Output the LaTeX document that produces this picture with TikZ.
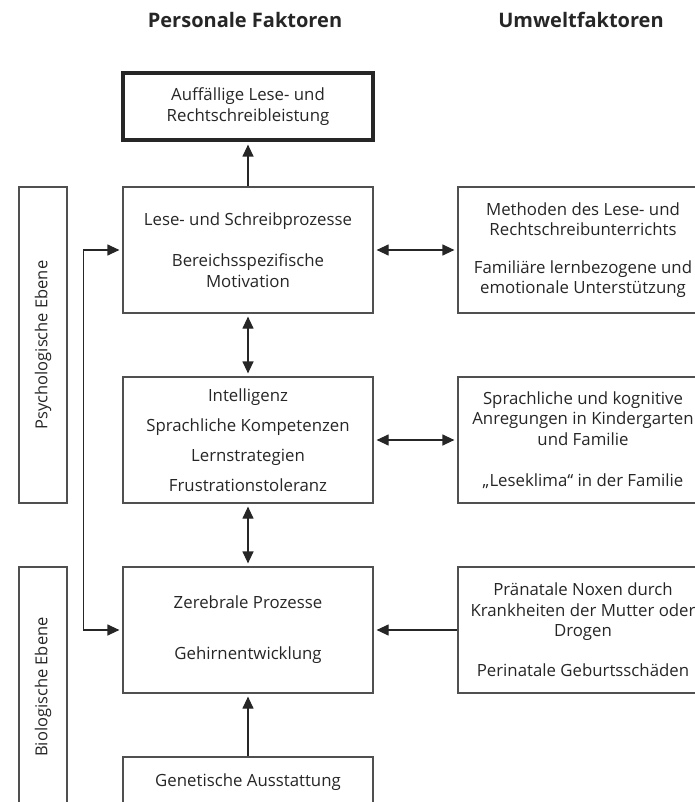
\documentclass[tikz,border=0pt]{standalone}
\usepackage{fontspec}
\setmainfont{Open Sans}
\usetikzlibrary{arrows.meta}
\definecolor{ink}{HTML}{262626}
\definecolor{edge}{HTML}{505050}
\begin{document}
\begin{tikzpicture}[x=1pt,y=-1pt,
  box/.style={draw=edge, line width=1.2pt, minimum width=250pt, minimum height=126pt,
    inner sep=0pt, align=center, text=ink, font=\fontsize{16.8}{20.5}\selectfont},
  side/.style={draw=edge, line width=1.2pt, rotate=90, minimum height=48pt,
    inner sep=0pt, text=ink, font=\fontsize{16.5}{20}\selectfont},
  title/.style={text=ink, font=\fontsize{20}{24}\selectfont\bfseries},
  arr/.style={draw=ink, line width=1.2pt, -{Triangle[length=12pt,width=11pt]}, shorten >=3pt},
  darr/.style={draw=ink, line width=1.2pt, {Triangle[length=12pt,width=11pt]}-{Triangle[length=12pt,width=11pt]},
    shorten <=3pt, shorten >=3pt}
]
\clip (0,0) rectangle (695,802);
\node[title] (tp) at (245,20) {Personale Faktoren};
\node[title] (tu) at (581,20) {Umweltfaktoren};

\node[box, line width=3.2pt, draw=black!85, minimum height=67pt] (top) at (248,106.5)
  {Auffällige Lese- und\\Rechtschreibleistung};
\node[box] (lese) at (248,250) {Lese- und Schreibprozesse\\[20.5pt]Bereichsspezifische\\Motivation};
\node[box] (kog) at (248,440) {Intelligenz\\[9.5pt]Sprachliche Kompetenzen\\[9.5pt]Lernstrategien\\[9.5pt]Frustrationstoleranz};
\node[box] (zer) at (248,630) {Zerebrale Prozesse\\[30.5pt]Gehirnentwicklung};
\node[box, minimum height=50pt] (gen) at (248,782) {Genetische Ausstattung};

\node[box] (um1) at (583,250) {Methoden des Lese- und\\Rechtschreibunterrichts\\[17pt]Familiäre lernbezogene und\\emotionale Unterstützung};
\node[box] (um2) at (583,440) {Sprachliche und kognitive\\Anregungen in Kindergarten\\und Familie\\[21pt]„Leseklima“ in der Familie};
\node[box] (um3) at (583,630) {Pränatale Noxen durch\\Krankheiten der Mutter oder\\Drogen\\[19.5pt]Perinatale Geburtsschäden};

\node[side, minimum width=316pt] (psy) at (43,345) {Psychologische Ebene};
\node[side, minimum width=240pt] (bio) at (43,687) {Biologische Ebene};

\draw[arr] (lese) -- (top);
\draw[darr] (lese) -- (kog);
\draw[darr] (kog) -- (zer);
\draw[arr] (gen) -- (zer);
\draw[darr] (lese) -- (um1);
\draw[darr] (kog) -- (um2);
\draw[arr] (um3) -- (zer);
\draw[darr] (lese.west) -- ++(-39,0) |- (zer.west);
\end{tikzpicture}
\end{document}
